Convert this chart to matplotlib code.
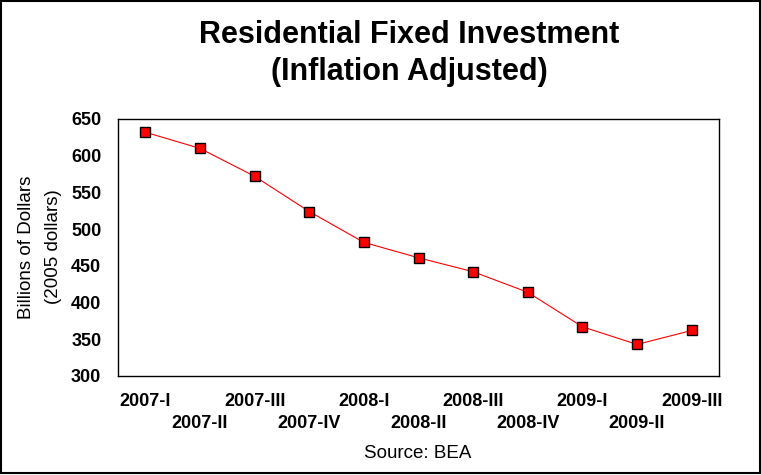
import matplotlib
matplotlib.use("Agg")
import matplotlib.pyplot as plt
from matplotlib.patches import Rectangle

quarters = ["2007-I", "2007-II", "2007-III", "2007-IV",
            "2008-I", "2008-II", "2008-III", "2008-IV",
            "2009-I", "2009-II", "2009-III"]
investment = [632, 610, 572, 524, 482, 461, 442, 414, 367, 343, 362]

yTicks = [300, 350, 400, 450, 500, 550, 600, 650]

plt.rcParams['font.family'] = ['Liberation Sans', 'DejaVu Sans']

fig = plt.figure(figsize=(7.61, 4.75), dpi=100)
ax = fig.add_axes([118 / 761, 1 - 376 / 475, (719 - 118) / 761, (376 - 119) / 475])

xs = list(range(len(quarters)))
ax.plot(xs, investment, c="#ff0000", lw=0.8, marker="s", ms=6.5,
        mfc="#ff0000", mec="k", mew=1.0)

ax.set_xlim(-0.5, len(quarters) - 0.5)
ax.set_ylim(300, 650)
ax.set_yticks(yTicks)
ax.set_yticklabels([str(t) for t in yTicks], fontsize=13, fontweight="bold")

#### staggered category labels: even ones on major ticks, odd ones on minor ticks
ax.set_xticks(xs[0::2])
ax.set_xticklabels(quarters[0::2], fontsize=13, fontweight="bold")
ax.set_xticks(xs[1::2], minor=True)
ax.set_xticklabels(quarters[1::2], minor=True, fontsize=13, fontweight="bold")
ax.tick_params(axis="both", which="both", length=0)
ax.tick_params(axis="x", which="major", pad=12)
ax.tick_params(axis="x", which="minor", pad=28)
ax.tick_params(axis="y", pad=12)

for s in ax.spines.values():
    s.set_linewidth(1.0)
    s.set_color("k")

fig.text(409 / 761, 1 - 35 / 475, "Residential Fixed Investment", fontsize=22,
         fontweight="bold", ha="center", va="center")
fig.text(409 / 761, 1 - 72 / 475, "(Inflation Adjusted)", fontsize=22,
         fontweight="bold", ha="center", va="center")

fig.text(40 / 761, 1 - 247 / 475, "Billions of Dollars\n(2005 dollars)", fontsize=13.5,
         rotation=90, ha="center", va="center", multialignment="center",
         linespacing=1.75)

fig.text(418 / 761, 1 - 454 / 475, "Source: BEA", fontsize=13.5,
         ha="center", va="center")

# outer frame
fig.patches.append(Rectangle((0.5 / 761, 2 / 475), 759 / 761, 472 / 475,
                             transform=fig.transFigure, fill=False,
                             ec="k", lw=1.5))

fig.savefig("out.png", dpi=100)
